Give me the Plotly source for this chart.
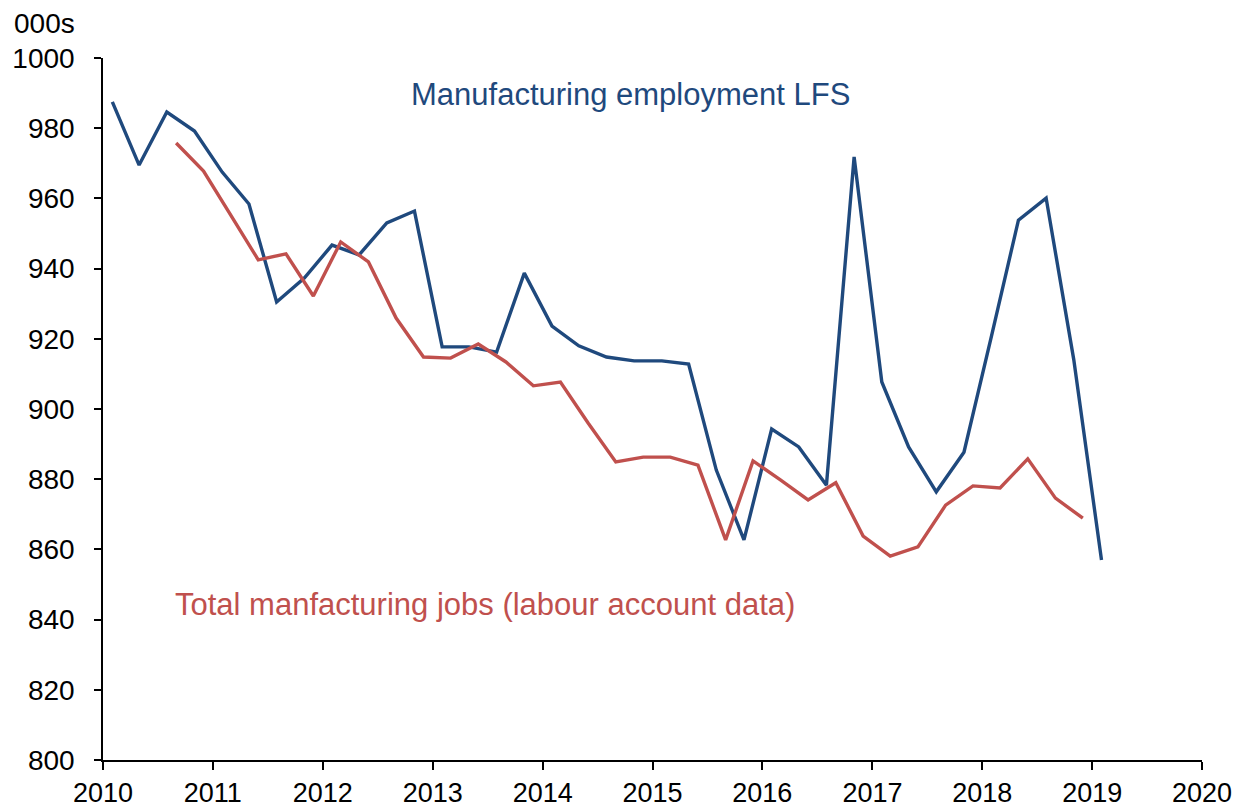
import pandas as pd
import plotly.graph_objects as go

# Quarterly manufacturing employment, thousands
lfs_start = "2010-02-01"
lfs_values = [987.5, 969.5, 984.6, 979.2, 967.5, 958.4, 930.5, 937.3, 946.7, 943.9,
              953.0, 956.4, 917.7, 917.7, 916.2, 938.7, 923.6, 918.0, 914.8, 913.7,
              913.7, 912.8, 882.6, 862.7, 894.3, 889.2, 878.3, 971.8, 907.7, 889.2,
              876.4, 887.7, 921.0, 953.8, 960.1, 914.0, 857.0]

jobs_start = "2010-09-01"
jobs_values = [975.8, 967.8, 955.3, 942.5, 944.2, 932.2, 947.6, 941.9, 925.9, 914.8,
               914.5, 918.5, 913.4, 906.6, 907.7, 896.0, 884.9, 886.3, 886.3, 884.0,
               862.7, 885.2, 879.8, 874.1, 879.0, 863.8, 858.1, 860.7, 872.6, 878.1,
               877.5, 885.8, 874.6, 868.9]

lfs_dates = pd.date_range(lfs_start, periods=len(lfs_values), freq="3MS")
jobs_dates = pd.date_range(jobs_start, periods=len(jobs_values), freq="3MS")

BLUE = "#1F497D"
RED = "#C0504D"
FONT = "Liberation Sans, Arial, sans-serif"

fig = go.Figure()
fig.add_trace(go.Scatter(x=lfs_dates, y=lfs_values, mode="lines",
                         line=dict(color=BLUE, width=3.4),
                         name="Manufacturing employment LFS"))
fig.add_trace(go.Scatter(x=jobs_dates, y=jobs_values, mode="lines",
                         line=dict(color=RED, width=3.4),
                         name="Total manfacturing jobs (labour account data)"))

fig.update_layout(
    width=1236, height=809,
    margin=dict(l=103, r=34, t=58, b=49),
    paper_bgcolor="white", plot_bgcolor="white",
    showlegend=False,
    font=dict(family=FONT, size=28, color="black"),
    xaxis=dict(
        type="date",
        range=["2010-01-01", "2020-01-01"],
        dtick="M12", tick0="2010-01-01", tickformat="%Y",
        showgrid=False, zeroline=False, automargin=False,
        showline=True, linecolor="black", linewidth=2,
        ticks="outside", ticklen=8, tickwidth=1.5, tickcolor="black",
        ticklabelstandoff=0,
        tickfont=dict(size=27),
    ),
    yaxis=dict(
        range=[800, 1000], dtick=20,
        showgrid=False, zeroline=False, automargin=False,
        showline=True, linecolor="black", linewidth=1.5,
        ticks="outside", ticklen=7, tickwidth=1.5, tickcolor="black",
        ticklabelstandoff=14,
        tickfont=dict(size=28),
    ),
)

fig.add_annotation(text="000s", xref="paper", yref="paper", x=-0.083, y=1.024,
                   xanchor="left", yanchor="bottom", showarrow=False,
                   font=dict(size=28, color="black"))
fig.add_annotation(text="Manufacturing employment LFS", xref="x", yref="y",
                   x="2012-10-14", y=989.5, xanchor="left", yanchor="middle",
                   showarrow=False, font=dict(size=31, color=BLUE))
fig.add_annotation(text="Total manfacturing jobs (labour account data)", xref="x", yref="y",
                   x="2010-08-22", y=844.2, xanchor="left", yanchor="middle",
                   showarrow=False, font=dict(size=31, color=RED))

fig.write_html("out.html")
